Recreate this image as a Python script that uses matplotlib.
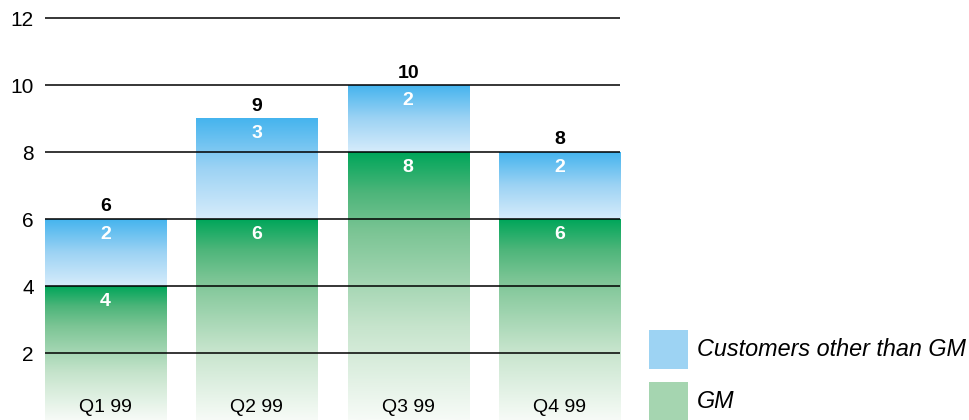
import numpy as np
import matplotlib.pyplot as plt
from matplotlib.colors import LinearSegmentedColormap
from matplotlib.patches import Rectangle

plt.rcParams['font.family'] = ['Liberation Sans', 'DejaVu Sans']

# ---------- data ----------
quarters = ["Q1 99", "Q2 99", "Q3 99", "Q4 99"]
gm = [4, 6, 8, 6]
others = [2, 3, 2, 2]
yticks = [2, 4, 6, 8, 10, 12]
legend_labels = ["Customers other than GM", "GM"]

totals = [g + o for g, o in zip(gm, others)]

# vertical gradients (bottom -> top)
green_cmap = LinearSegmentedColormap.from_list(
    "gm", [(0.0, "#f7fbf7"), (0.35, "#c6e4cc"), (0.7, "#7cc595"),
           (0.85, "#4db57a"), (1.0, "#00a65a")])
blue_cmap = LinearSegmentedColormap.from_list(
    "oth", [(0.0, "#d6ecfb"), (0.5, "#9dd3f4"), (1.0, "#45b4ee")])
grad = np.linspace(0, 1, 256).reshape(-1, 1)

fig = plt.figure(figsize=(9.69, 4.2), dpi=100)
ax = fig.add_axes([45 / 969, 0, 575 / 969, 1])

width = 0.8
for i, (g, o, t) in enumerate(zip(gm, others, totals)):
    x0, x1 = i - width / 2, i + width / 2
    ax.imshow(grad, cmap=green_cmap, origin="lower", aspect="auto",
              extent=(x0, x1, 0, g), zorder=1, interpolation="bilinear")
    ax.imshow(grad, cmap=blue_cmap, origin="lower", aspect="auto",
              extent=(x0, x1, g, t), zorder=1, interpolation="bilinear")
    # segment labels
    ax.text(i, g - 0.47, str(g), color="white", fontweight="bold",
            fontsize=14, ha="center", va="center", zorder=3)
    ax.text(i, t - 0.45, str(o), color="white", fontweight="bold",
            fontsize=14, ha="center", va="center", zorder=3)
    # totals
    ax.text(i, t + 0.36, str(t), color="black", fontweight="bold",
            fontsize=14, ha="center", va="center", zorder=3)
    # category labels inside bar bottom
    ax.text(i, 0.38, quarters[i], color="black", fontsize=14,
            ha="center", va="center", zorder=3)

ax.set_xlim(-0.4, len(quarters) - 0.6)
ax.set_ylim(0, 12.54)
ax.set_yticks(yticks)
ax.set_yticklabels([str(v) for v in yticks], fontsize=15)
ax.set_xticks([])
ax.tick_params(axis="y", length=0, pad=8)
ax.set_axisbelow(False)
ax.grid(axis="y", color="black", linewidth=1.1, zorder=2.5)
for s in ax.spines.values():
    s.set_visible(False)

# legend
leg_colors = ["#9dd3f3", "#a5d5b0"]
leg_boxes = [(649, 330, 39, 39), (649, 382, 39, 38)]
for (px, py, pw, ph), col, lab in zip(leg_boxes, leg_colors, legend_labels):
    fig.add_artist(Rectangle((px / 969, (420 - py - ph) / 420), pw / 969, ph / 420,
                             transform=fig.transFigure, color=col, lw=0))
    fig.text(697 / 969, (420 - py - ph / 2) / 420, lab, fontsize=16.8,
             style="italic", ha="left", va="center")

fig.savefig("out.png", dpi=100)
